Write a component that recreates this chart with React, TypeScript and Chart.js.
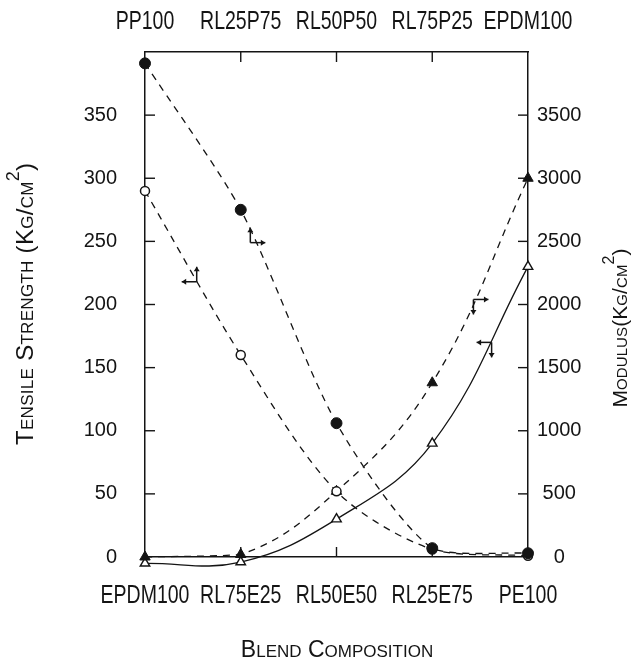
import React, { useEffect, useRef } from 'react';
import { Chart, registerables } from 'chart.js';

Chart.register(...registerables);

// ---- data ----
const bottomCategories = ['EPDM100', 'RL75E25', 'RL50E50', 'RL25E75', 'PE100'];
const topCategories = ['PP100', 'RL25P75', 'RL50P50', 'RL75P25', 'EPDM100'];

// PP / EPDM blends (top composition axis)
const ppBlendModulus = [3910, 2750, 1060, 70, 30]; // filled circles, right axis
const ppBlendTensile = [290, 160, 52, 6, 1]; // open circles, left axis
// EPDM / PE blends (bottom composition axis)
const peBlendModulus = [0, 20, 520, 1380, 3000]; // filled triangles, right axis
const peBlendTensile = [-5, -4, 30, 90, 230]; // open triangles, left axis

const tensileTicks = [0, 50, 100, 150, 200, 250, 300, 350];
const modulusTicks = [0, 500, 1000, 1500, 2000, 2500, 3000, 3500];

// axis-indicator arrows: position (category index, tensile units) and directions
const arrowIndex = [0.54, 1.1, 3.43, 3.62];
const arrowTensile = [218, 249, 204, 170];
const arrowHoriz = ['left', 'right', 'right', 'left'];
const arrowVert = ['up', 'up', 'down', 'down'];

const FONT = "'Liberation Sans', Arial, sans-serif";
const INK = '#141414';

function pieces(text: string) {
  const out: { ch: string; kind: string }[] = [];
  for (const ch of text) {
    if (ch === '²') out.push({ ch: '2', kind: 'sup' });
    else if (ch >= 'a' && ch <= 'z') out.push({ ch: ch.toUpperCase(), kind: 'small' });
    else out.push({ ch, kind: 'big' });
  }
  return out;
}

function drawSmallCaps(ctx: CanvasRenderingContext2D, text: string, cx: number, base: number, len: number, big: number, small: number) {
  const ps = pieces(text);
  const fontFor = (k: string) => `${k === 'big' ? big : k === 'small' ? small : Math.round(small * 1.05)}px ${FONT}`;
  const widths = ps.map((p) => {
    ctx.font = fontFor(p.kind);
    return ctx.measureText(p.ch).width;
  });
  const natural = widths.reduce((a, b) => a + b, 0);
  const gap = Math.max(0, (len - natural) / (ps.length - 1));
  const total = natural + gap * (ps.length - 1);
  let x = cx - total / 2;
  ctx.textAlign = 'left';
  ctx.textBaseline = 'alphabetic';
  ps.forEach((p, i) => {
    ctx.font = fontFor(p.kind);
    ctx.fillText(p.ch, x, p.kind === 'sup' ? base - big * 0.6 : base);
    x += widths[i] + gap;
  });
}

function narrowText(ctx: CanvasRenderingContext2D, text: string, cx: number, cy: number, size: number, squeeze: number) {
  ctx.save();
  ctx.translate(cx, cy);
  ctx.scale(squeeze, 1);
  ctx.font = `${size}px ${FONT}`;
  ctx.textAlign = 'center';
  ctx.textBaseline = 'middle';
  ctx.fillText(text, 0, 0);
  ctx.restore();
}

function arrowHead(ctx: CanvasRenderingContext2D, x: number, y: number, dir: string) {
  const s = 4.5;
  const w = 3;
  ctx.beginPath();
  if (dir === 'left') { ctx.moveTo(x, y); ctx.lineTo(x + s, y - w); ctx.lineTo(x + s, y + w); }
  if (dir === 'right') { ctx.moveTo(x, y); ctx.lineTo(x - s, y - w); ctx.lineTo(x - s, y + w); }
  if (dir === 'up') { ctx.moveTo(x, y); ctx.lineTo(x - w, y + s); ctx.lineTo(x + w, y + s); }
  if (dir === 'down') { ctx.moveTo(x, y); ctx.lineTo(x - w, y - s); ctx.lineTo(x + w, y - s); }
  ctx.closePath();
  ctx.fill();
}

const decorPlugin = {
  id: 'decor',
  afterDraw(chart: any) {
    const ctx: CanvasRenderingContext2D = chart.ctx;
    const { x, xTop, y, y1 } = chart.scales;
    const { left, right, top, bottom } = chart.chartArea;
    ctx.save();
    ctx.strokeStyle = INK;
    ctx.fillStyle = INK;
    ctx.lineWidth = 1.4;
    const seg = (a: number, b: number, c: number, d: number) => {
      ctx.beginPath();
      ctx.moveTo(a, b);
      ctx.lineTo(c, d);
      ctx.stroke();
    };
    // inward tick marks
    tensileTicks.forEach((v) => {
      if (v === 0) return;
      const py = y.getPixelForValue(v);
      seg(left, py, left + 10, py);
    });
    modulusTicks.forEach((v) => {
      if (v === 0) return;
      const py = y1.getPixelForValue(v);
      seg(right, py, right - 10, py);
    });
    for (let i = 1; i < bottomCategories.length - 1; i++) {
      const px = x.getPixelForValue(i);
      seg(px, bottom, px, bottom - 10);
      const pt = xTop.getPixelForValue(i);
      seg(pt, top, pt, top + 10);
    }
    // category labels (narrow plotter lettering)
    bottomCategories.forEach((c, i) => narrowText(ctx, c, x.getPixelForValue(i), bottom + 39, 25, 0.78));
    topCategories.forEach((c, i) => narrowText(ctx, c, xTop.getPixelForValue(i), top - 30, 25, 0.78));
    // axis indicator arrows
    ctx.lineWidth = 1.5;
    arrowIndex.forEach((idx, i) => {
      const cx = x.getPixelForValue(idx);
      const cy = y.getPixelForValue(arrowTensile[i]);
      const hx = arrowHoriz[i] === 'left' ? cx - 15 : cx + 15;
      const vy = arrowVert[i] === 'up' ? cy - 15 : cy + 15;
      seg(cx, cy, hx, cy);
      seg(cx, cy, cx, vy);
      arrowHead(ctx, hx, cy, arrowHoriz[i]);
      arrowHead(ctx, cx, vy, arrowVert[i]);
    });
    // axis titles (small caps)
    ctx.save();
    ctx.translate(33, 304);
    ctx.rotate(-Math.PI / 2);
    drawSmallCaps(ctx, 'Tensile Strength (Kg/cm²)', 0, 0, 282, 24, 17);
    ctx.restore();
    ctx.save();
    ctx.translate(627, 328);
    ctx.rotate(-Math.PI / 2);
    drawSmallCaps(ctx, 'Modulus(Kg/cm²)', 0, 0, 159, 21, 15);
    ctx.restore();
    drawSmallCaps(ctx, 'Blend Composition', 337, 657, 189, 23, 17);
    ctx.restore();
  },
};

export default function App() {
  const ref = useRef<HTMLCanvasElement>(null);
  useEffect(() => {
    if (!ref.current) return;
    const lineBase = {
      borderColor: INK,
      borderWidth: 1.3,
      pointBorderColor: INK,
      clip: false as any,
      fill: false,
    };
    const tickFont = { family: FONT, size: 20 };
    const border = { display: true, color: INK, width: 1.5 };
    const plain = (v: any) => String(v);
    const chart = new Chart(ref.current, {
      type: 'line',
      data: {
        labels: bottomCategories,
        datasets: [
          {
            ...lineBase,
            label: 'PP blends modulus',
            data: ppBlendModulus,
            xAxisID: 'xTop',
            yAxisID: 'y1',
            tension: 0.25,
            borderDash: [7, 6],
            pointStyle: 'circle',
            pointRadius: 5.5,
            pointBackgroundColor: INK,
            pointBorderWidth: 1,
          },
          {
            ...lineBase,
            label: 'PP blends tensile',
            data: ppBlendTensile,
            xAxisID: 'xTop',
            yAxisID: 'y',
            tension: 0.3,
            borderDash: [7, 6],
            pointStyle: 'circle',
            pointRadius: 4.5,
            pointBackgroundColor: '#fff',
            pointBorderWidth: 1.5,
          },
          {
            ...lineBase,
            label: 'PE blends modulus',
            data: peBlendModulus,
            xAxisID: 'x',
            yAxisID: 'y1',
            tension: 0.4,
            borderDash: [7, 6],
            pointStyle: 'triangle',
            pointRadius: 6,
            pointBackgroundColor: INK,
            pointBorderWidth: 1,
          },
          {
            ...lineBase,
            label: 'PE blends tensile',
            data: peBlendTensile,
            xAxisID: 'x',
            yAxisID: 'y',
            tension: 0.4,
            pointStyle: 'triangle',
            pointRadius: 5.5,
            pointBackgroundColor: '#fff',
            pointBorderWidth: 1.4,
          },
        ],
      },
      options: {
        responsive: false,
        animation: false,
        devicePixelRatio: 1,
        layout: { padding: 0 },
        plugins: { legend: { display: false }, tooltip: { enabled: false } },
        scales: {
          x: {
            type: 'category',
            position: 'bottom',
            offset: false,
            grid: { display: false, drawTicks: false },
            border,
            ticks: { display: false, autoSkip: false },
            afterFit: (s: any) => { s.height = 102; },
          },
          xTop: {
            type: 'category',
            position: 'top',
            labels: topCategories,
            offset: false,
            grid: { display: false, drawTicks: false },
            border,
            ticks: { display: false, autoSkip: false },
            afterFit: (s: any) => { s.height = 52; },
          },
          y: {
            type: 'linear',
            position: 'left',
            min: 0,
            max: 400,
            afterBuildTicks: (s: any) => { s.ticks = tensileTicks.map((v) => ({ value: v })); },
            grid: { display: false, drawTicks: false },
            border,
            ticks: { padding: 28, font: tickFont, color: INK, callback: plain },
            afterFit: (s: any) => { s.width = 145; },
          },
          y1: {
            type: 'linear',
            position: 'right',
            min: 0,
            max: 4000,
            afterBuildTicks: (s: any) => { s.ticks = modulusTicks.map((v) => ({ value: v })); },
            grid: { display: false, drawTicks: false },
            border,
            ticks: { padding: 9, font: tickFont, color: INK, crossAlign: 'center', callback: plain },
            afterFit: (s: any) => { s.width = 103; },
          },
        },
      } as any,
      plugins: [decorPlugin],
    });
    return () => chart.destroy();
  }, []);
  return (
    <div style={{ position: 'absolute', left: 0, top: 0, width: 631, height: 659, background: '#fff' }}>
      <canvas ref={ref} width={631} height={659} style={{ display: 'block' }} />
    </div>
  );
}
